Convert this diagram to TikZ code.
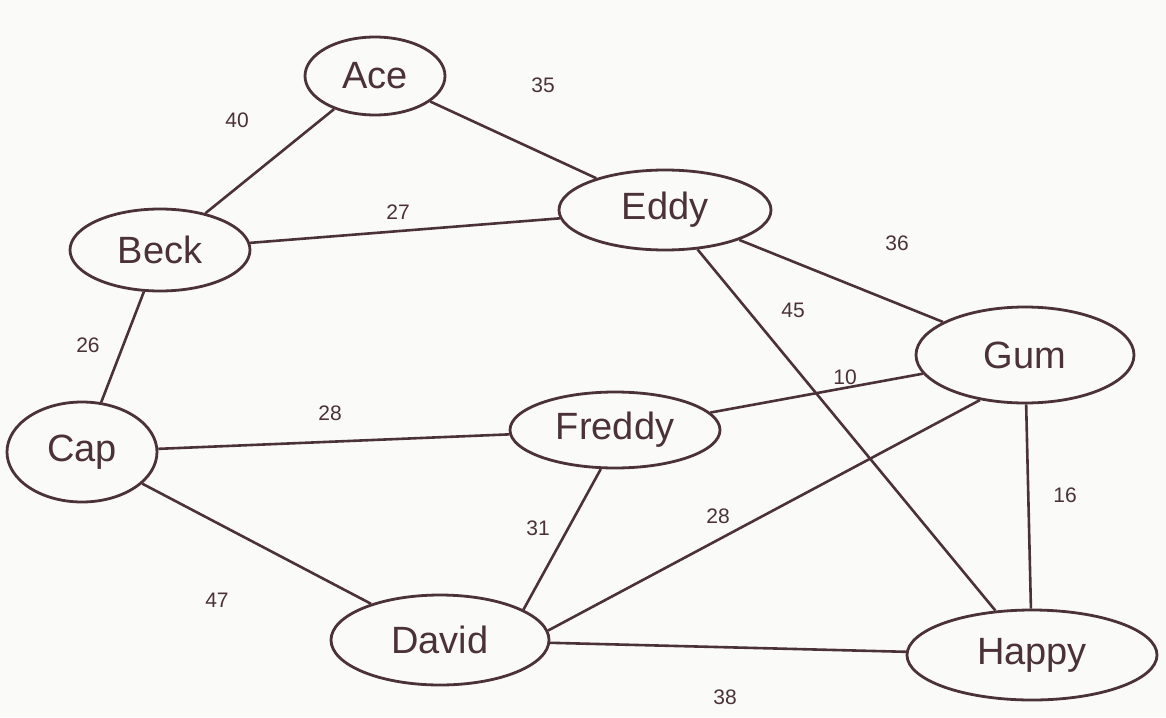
\documentclass[tikz,border=0pt]{standalone}
\usepackage{fontspec}
\setmainfont{Liberation Sans}
\usetikzlibrary{shapes.geometric}
\definecolor{ink}{HTML}{4A3238}
\definecolor{paper}{HTML}{FAFAF8}
\begin{document}
\begin{tikzpicture}[x=1pt,y=-1pt,
  person/.style={draw=ink, line width=2.8pt, ellipse, inner sep=0pt, text=ink, font=\fontsize{38}{42}\selectfont},
  link/.style={draw=ink, line width=2.6pt},
  wt/.style={text=ink, font=\fontsize{21}{25}\selectfont, inner sep=1pt}]
\fill[paper] (0,0) rectangle (1166,717);
\useasboundingbox (0,0) rectangle (1166,717);
\node[person, minimum width=140, minimum height=78] (ace) at (375,76) {Ace};
\node[person, minimum width=180, minimum height=82] (beck) at (160,250) {Beck};
\node[person, minimum width=212, minimum height=80] (eddy) at (665,210) {Eddy};
\node[person, minimum width=150, minimum height=100] (cap) at (82,452) {Cap};
\node[person, minimum width=210, minimum height=76] (freddy) at (615,430) {Freddy};
\node[person, minimum width=218, minimum height=96] (gum) at (1025,355) {Gum};
\node[person, minimum width=218, minimum height=90] (david) at (440,640) {David};
\node[person, minimum width=250, minimum height=90] (happy) at (1032,655) {Happy};
\draw[link] (ace) -- (beck);
\draw[link] (ace) -- (eddy);
\draw[link] (beck) -- (eddy);
\draw[link] (eddy) -- (gum);
\draw[link] (beck) -- (cap);
\draw[link] (eddy) -- (happy);
\draw[link] (freddy) -- (gum);
\draw[link] (cap) -- (freddy);
\draw[link] (gum) -- (happy);
\draw[link] (freddy.250) -- (david.20);
\draw[link] (david.5) -- (gum.225);
\draw[link] (cap) -- (david);
\draw[link] (david) -- (happy);
\node[wt] (w1) at (237,120) {40};
\node[wt] (w2) at (543,85) {35};
\node[wt] (w3) at (398,212) {27};
\node[wt] (w4) at (897,243) {36};
\node[wt] (w5) at (88,345) {26};
\node[wt] (w6) at (793,310) {45};
\node[wt] (w7) at (845,377) {10};
\node[wt] (w8) at (330,413) {28};
\node[wt] (w9) at (1065,495) {16};
\node[wt] (w10) at (538,528) {31};
\node[wt] (w11) at (718,516) {28};
\node[wt] (w12) at (217,600) {47};
\node[wt] (w13) at (725,697) {38};
\end{tikzpicture}
\end{document}
